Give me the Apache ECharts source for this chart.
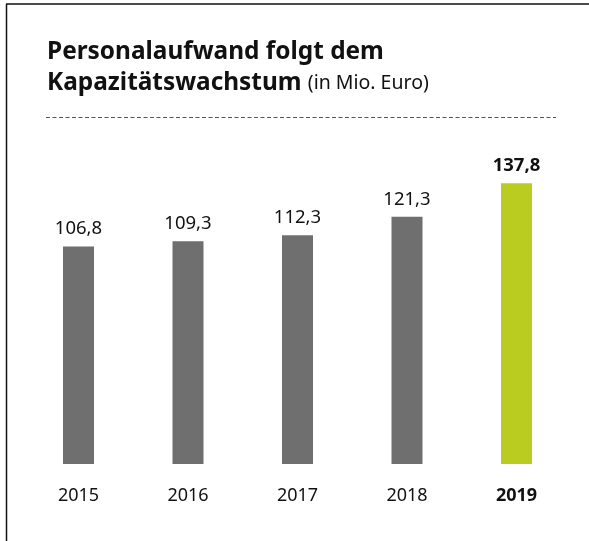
<!DOCTYPE html>
<html>
<head>
<meta charset="utf-8">
<script src="https://cdn.jsdelivr.net/npm/echarts@6/dist/echarts.min.js"></script>
<style>
  html, body { margin: 0; padding: 0; background: #fff; }
  #chart { width: 589px; height: 541px; }
</style>
</head>
<body>
<div id="chart"></div>
<script>
const years = ['2015', '2016', '2017', '2018', '2019']
const values = [106.8, 109.3, 112.3, 121.3, 137.8]
const barColors = ['#6f6f6f', '#6f6f6f', '#6f6f6f', '#6f6f6f', '#bacc1f']

const chart = echarts.init(document.getElementById('chart'))
const font = '"Noto Sans", "Open Sans", sans-serif'

const option = {
  animation: false,
  textStyle: { fontFamily: font },
  title: {
    left: 47,
    top: 37,
    padding: 0,
    text: '{b|Personalaufwand folgt dem}\n{b|Kapazitätswachstum}{s| }{r|(in Mio. Euro)}',
    textStyle: {
      rich: {
        b: { fontFamily: font, fontWeight: 'bold', fontSize: 24.4, color: '#111', lineHeight: 31 },
        s: { fontFamily: font, fontSize: 24, lineHeight: 31 },
        r: { fontFamily: font, fontWeight: 'normal', fontSize: 19.5, color: '#111', lineHeight: 31 }
      }
    }
  },
  grid: { left: 23.75, right: 17.75, top: 138, bottom: 77 },
  xAxis: {
    type: 'category',
    data: years,
    axisLine: { show: false },
    axisTick: { show: false },
    axisLabel: {
      margin: 23,
      fontSize: 18,
      color: '#111',
      fontFamily: font,
      formatter: (v) => (v === '2019' ? '{b|' + v + '}' : v),
      rich: { b: { fontSize: 18, fontWeight: 'bold', color: '#111', fontFamily: font } }
    }
  },
  yAxis: {
    type: 'value',
    min: 0,
    max: 160,
    show: false
  },
  series: [
    {
      type: 'bar',
      barWidth: 31,
      data: values.map((v, i) => ({
        value: v,
        itemStyle: { color: barColors[i] },
        label: i === 4 ? { fontWeight: 'bold' } : {}
      })),
      label: {
        show: true,
        position: 'top',
        distance: 8,
        fontSize: 18.5,
        color: '#111',
        fontFamily: font,
        formatter: (p) => p.value.toFixed(1).replace('.', ',')
      }
    }
  ],
  graphic: [
    // Rahmen oben und links
    { type: 'line', shape: { x1: 6, y1: 4, x2: 589, y2: 4 }, style: { stroke: '#111', lineWidth: 1.5 } },
    { type: 'line', shape: { x1: 6.5, y1: 4, x2: 6.5, y2: 541 }, style: { stroke: '#111', lineWidth: 1.5 } },
    // gestrichelte Trennlinie
    { type: 'line', shape: { x1: 46, y1: 117.5, x2: 556, y2: 117.5 }, style: { stroke: '#555', lineWidth: 1, lineDash: [4, 2.5] } }
  ]
}

chart.setOption(option)
</script>
</body>
</html>
